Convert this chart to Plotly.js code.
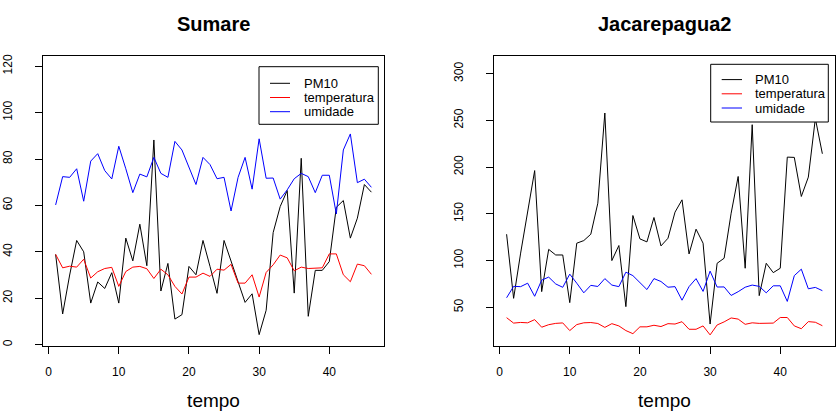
<!DOCTYPE html>
<html>
<head>
<meta charset="utf-8">
<script src="https://cdn.plot.ly/plotly-3.0.1.min.js"></script>
<style>
  html, body { margin: 0; padding: 0; background: #fff; }
  #chart { width: 838px; height: 411px; }
</style>
</head>
<body>
<div id="chart"></div>
<script>
// time index
const tempo = [1,2,3,4,5,6,7,8,9,10,11,12,13,14,15,16,17,18,19,20,21,22,23,24,25,26,27,28,29,30,31,32,33,34,35,36,37,38,39,40,41,42,43,44,45,46];

// Sumare PM10
const pm10Sumare = [38.9,13.2,30,44.9,40,17.9,27,24.2,31,17.9,45.9,36.1,51.9,34,88.2,23.1,35,11,12.9,33.7,30.1,44.9,33.7,22.1,44.9,35.7,26.5,18.2,21.9,4.3,14.8,48.3,59.5,66.4,22.2,80.3,12.2,32,32,35.8,59.2,62.1,45.9,54.5,69,65.7];

// Jacarepagua2 PM10
const pm10Jacarepagua = [128.2,59.6,108,152,196.3,66.8,112,106,106,55,118.6,121.4,128.2,161.4,257.9,100,116.1,50.7,148.2,123.2,120,146.1,115.7,123.9,151.8,165,107.1,133.6,118.6,32.1,97.1,102.5,150.7,190,91.8,245.4,62.5,97.1,87.1,91.8,210.7,210.4,168.6,189.3,252,214.3];

// shared weather series
const temperatura = [38.9,33.1,33.8,33.4,36.8,28.7,31.4,32.8,33.3,25.1,31.5,33.4,33.7,32.7,28.5,32.5,30.1,25.1,21.8,29.1,29.1,30.8,29.4,32.5,32.1,34.6,26.5,26.5,30.1,20.5,31.1,34.4,38.6,37.4,31.8,33.4,32.8,33.1,33.1,39.1,39.1,30.1,27.1,34.7,34,30.3];
const umidade = [60.2,72.4,72.1,75.8,61.8,79.1,82.3,75,71.4,85.5,75.8,65.5,73.5,72.3,80.7,73.8,72.1,87.6,83.9,76.7,69,80.7,77.6,71.5,72.1,57.6,72.1,80.7,67,88.7,71.7,71.8,62.7,66.7,71.5,73.8,72.4,65.5,73,73,56.3,83.9,90.8,69.8,71.3,67.8];

const seriesNames = ['PM10', 'temperatura', 'umidade'];
const panelTitles = ['Sumare', 'Jacarepagua2'];
const xTicks = [0, 10, 20, 30, 40];
const yTicksLeft = [0, 20, 40, 60, 80, 100, 120];
const yTicksRight = [50, 100, 150, 200, 250, 300];

const colors = ['#000000', '#FF0000', '#0000FF'];
const FONT = 'Liberation Sans, Arial, Helvetica, sans-serif';

// page geometry (px) -> paper coordinates
const W = 838, H = 411, M = { l: 43, r: 3, t: 56, b: 65 };
const PW = W - M.l - M.r, PH = H - M.t - M.b;
const px = v => (v - M.l) / PW;
const py = v => 1 - (v - M.t) / PH;

function mk(y, i, xa, ya) {
  return {
    x: tempo, y: y, type: 'scatter', mode: 'lines',
    name: seriesNames[i], showlegend: false,
    line: { color: colors[i], width: 1 },
    xaxis: xa, yaxis: ya, hoverinfo: 'skip'
  };
}

const data = [
  mk(pm10Sumare, 0, 'x', 'y'),
  mk(temperatura, 1, 'x', 'y'),
  mk(umidade, 2, 'x', 'y'),
  mk(pm10Jacarepagua, 0, 'x2', 'y2'),
  mk(temperatura, 1, 'x2', 'y2'),
  mk(umidade, 2, 'x2', 'y2')
];

const axBase = {
  showline: true, mirror: true, linecolor: '#000', linewidth: 1,
  ticks: 'outside', ticklen: 7, tickwidth: 1, tickcolor: '#000',
  showgrid: false, zeroline: false,
  tickfont: { family: FONT, size: 12, color: '#000' }
};

function xax(domain, anchor) {
  return Object.assign({}, axBase, {
    domain: domain, anchor: anchor, range: [-0.8, 47.8],
    tickmode: 'array', tickvals: xTicks, ticktext: xTicks.map(String),
    ticklabelstandoff: 8,
    title: { text: 'tempo', font: { family: FONT, size: 19, color: '#000' }, standoff: 18 }
  });
}
function yax(anchor, range, ticks) {
  return Object.assign({}, axBase, {
    anchor: anchor, range: range,
    tickmode: 'array', tickvals: ticks, ticktext: ticks.map(String),
    tickangle: -90, ticklabelstandoff: 18
  });
}

// legend boxes (R-style), drawn in paper space
const legends = [
  { box: [259, 66.7, 378.3, 124.3], lineX: [270, 290], textX: 301.5, rows: [83.3, 97.5, 111.7] },
  { box: [710.7, 64.3, 828.3, 122], lineX: [721.7, 742], textX: 753, rows: [79.6, 93.8, 108] }
];
const shapes = [], annotations = [];
legends.forEach(L => {
  shapes.push({ type: 'rect', xref: 'paper', yref: 'paper', layer: 'above',
    x0: px(L.box[0]), x1: px(L.box[2]), y0: py(L.box[3]), y1: py(L.box[1]),
    fillcolor: '#fff', line: { color: '#000', width: 1 } });
  seriesNames.forEach((nm, i) => {
    shapes.push({ type: 'line', xref: 'paper', yref: 'paper', layer: 'above',
      x0: px(L.lineX[0]), x1: px(L.lineX[1]), y0: py(L.rows[i]), y1: py(L.rows[i]),
      line: { color: colors[i], width: 1 } });
    annotations.push({ text: nm, xref: 'paper', yref: 'paper', x: px(L.textX), y: py(L.rows[i]),
      xanchor: 'left', yanchor: 'middle', showarrow: false,
      font: { family: FONT, size: 13, color: '#000' } });
  });
});
annotations.push(
  { text: '<b>' + panelTitles[0] + '</b>', xref: 'paper', yref: 'paper', x: px(213.7), y: py(24),
    xanchor: 'center', yanchor: 'middle', showarrow: false, font: { family: FONT, size: 20, color: '#000' } },
  { text: '<b>' + panelTitles[1] + '</b>', xref: 'paper', yref: 'paper', x: px(664.7), y: py(24),
    xanchor: 'center', yanchor: 'middle', showarrow: false, font: { family: FONT, size: 20, color: '#000' } }
);

const layout = {
  width: W, height: H,
  margin: M,
  paper_bgcolor: '#fff', plot_bgcolor: '#fff',
  font: { family: FONT, color: '#000' },
  showlegend: false,
  xaxis: xax([0, 0.4306], 'y'),
  yaxis: yax('x', [-0.6, 124.4], yTicksLeft),
  xaxis2: xax([0.5694, 1], 'y2'),
  yaxis2: yax('x2', [8.6, 318.9], yTicksRight),
  shapes: shapes,
  annotations: annotations
};

Plotly.newPlot('chart', data, layout, { staticPlot: true, displayModeBar: false });
</script>
</body>
</html>
